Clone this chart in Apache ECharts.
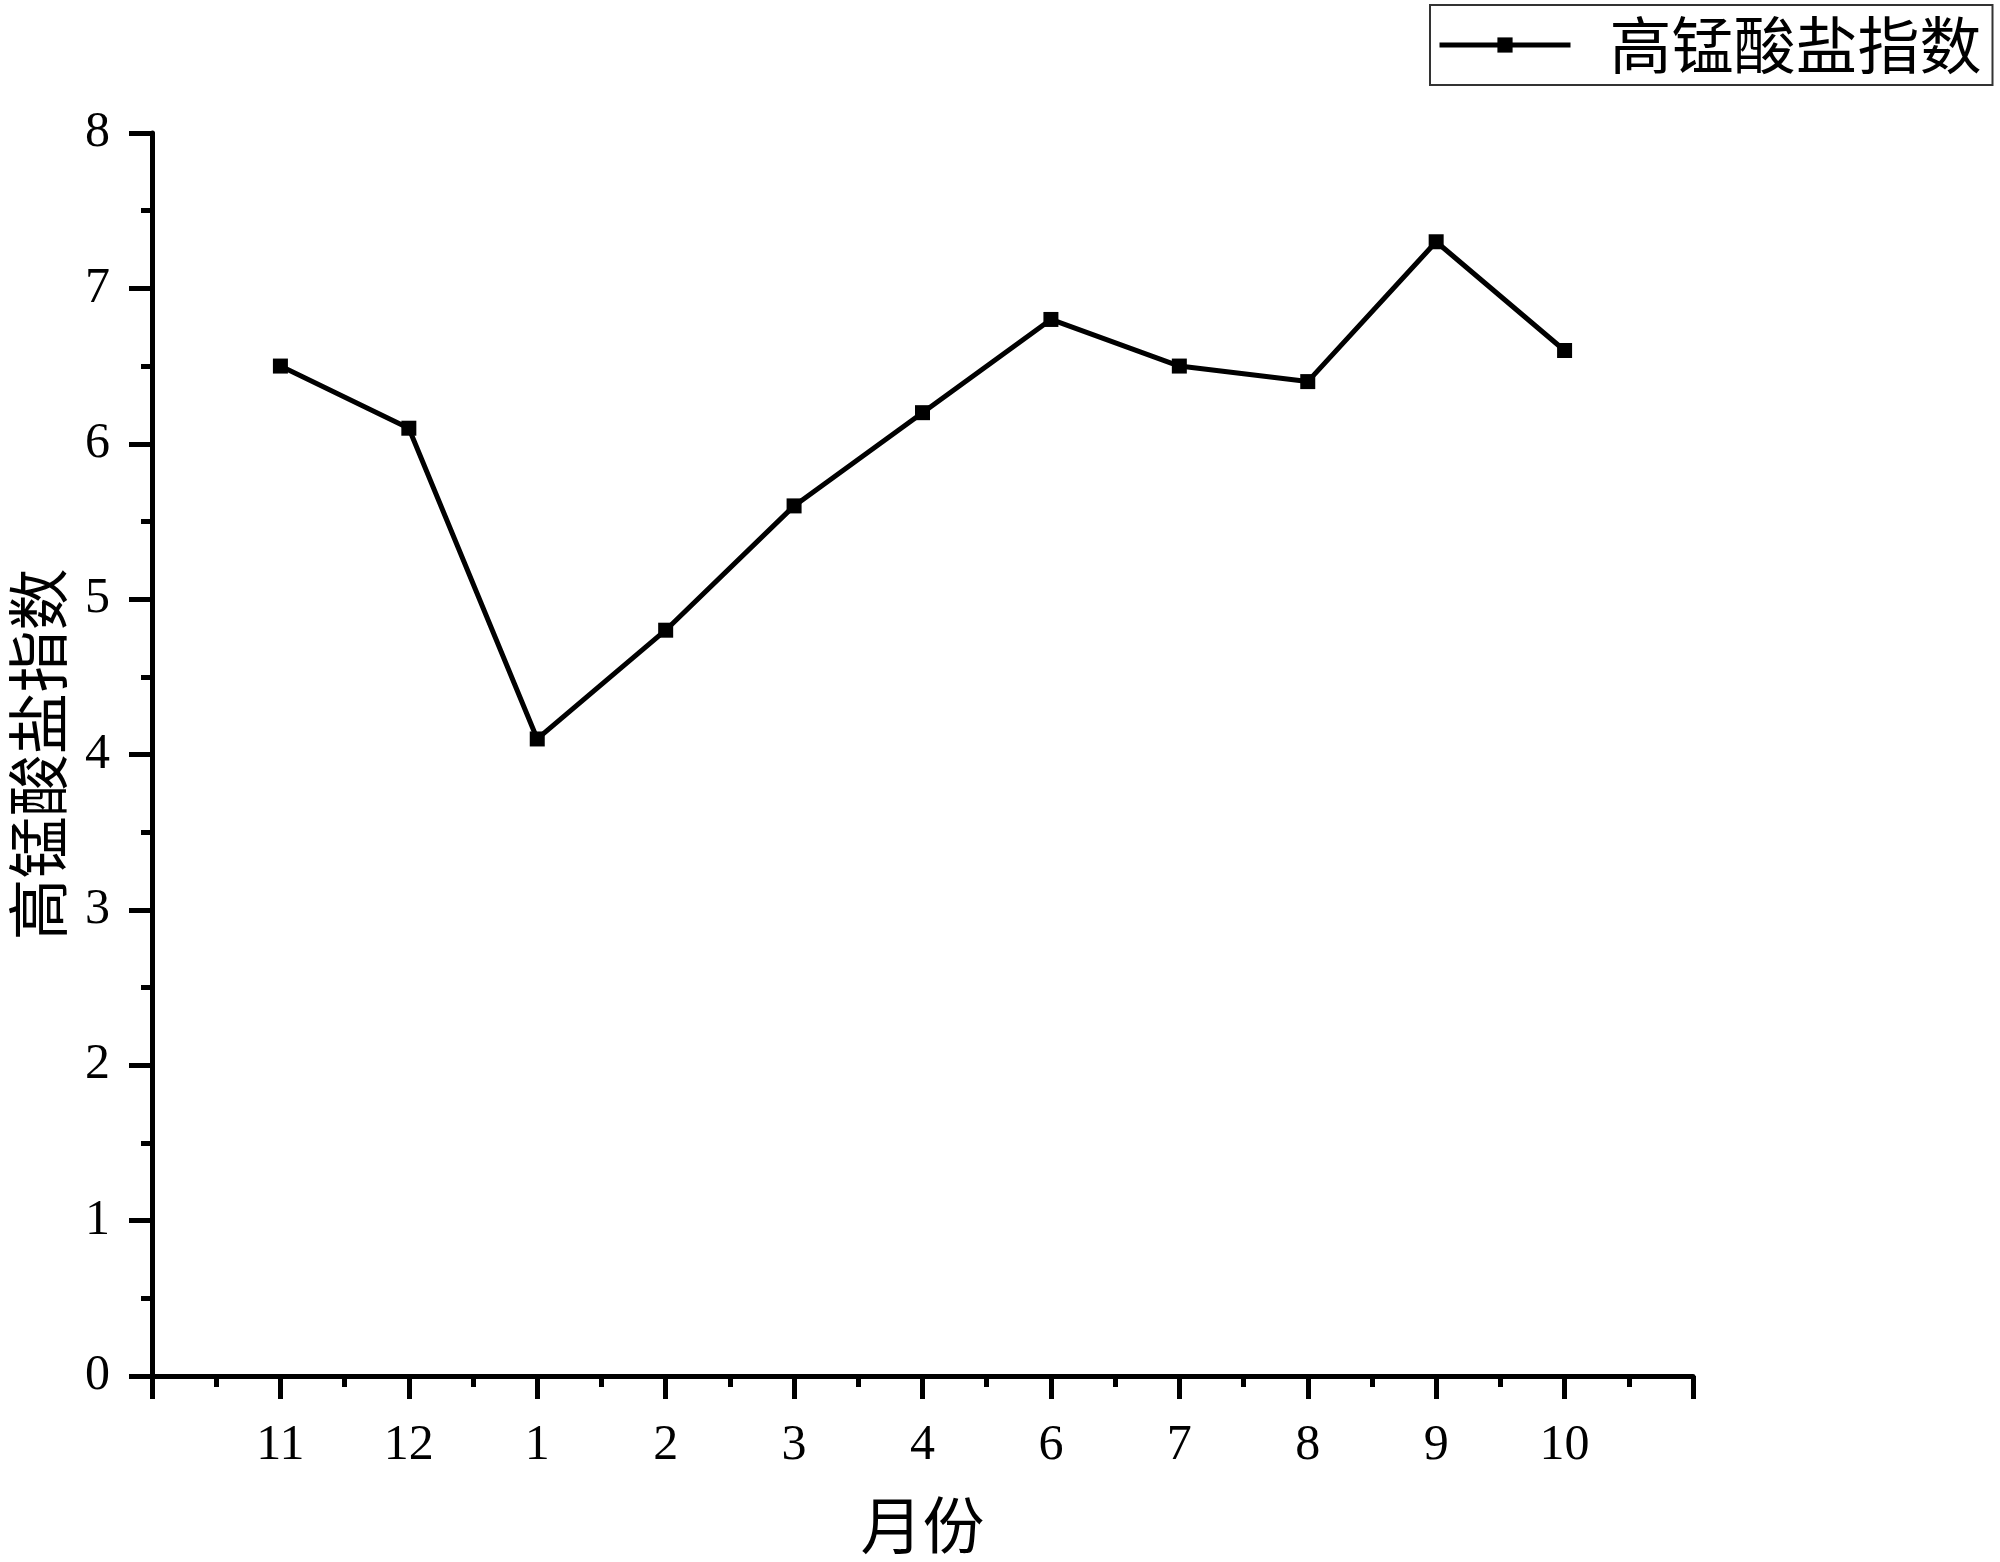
<!DOCTYPE html>
<html><head><meta charset="utf-8">
<script src="https://cdn.jsdelivr.net/npm/echarts@6/dist/echarts.min.js"></script>
<style>html,body{margin:0;padding:0;background:#fff}#c{width:2000px;height:1562px}</style>
</head><body><div id="c"></div>
<script>
const months = ['11','12','1','2','3','4','6','7','8','9','10'];
const values = [6.5, 6.1, 4.1, 4.8, 5.6, 6.2, 6.8, 6.5, 6.4, 7.3, 6.6];
const seriesName = '高锰酸盐指数';
const xName = '月份';
const yName = '高锰酸盐指数';

const chart = echarts.init(document.getElementById('c'));
const numFont = '"Liberation Serif", "DejaVu Serif", serif';
const cjkFont = '"Noto Sans CJK SC", sans-serif';
chart.setOption({
  backgroundColor: '#fff',
  animation: false,
  grid: {left: 152, top: 133, right: 307, bottom: 186, containLabel: false, outerBoundsMode: 'none'},
  legend: {
    left: 1430, top: 5,
    padding: [9, 11, 9, 7],
    borderColor: '#333', borderWidth: 2,
    itemWidth: 131, itemHeight: 19,
    lineStyle: {width: 5},
    textStyle: {fontFamily: cjkFont, fontSize: 62, color: '#000', padding: [0, 0, 0, 34]},
    data: [seriesName]
  },
  xAxis: {
    type: 'value', min: 0, max: months.length + 1, interval: 1,
    name: xName, nameLocation: 'middle', nameGap: 118,
    nameTextStyle: {fontFamily: cjkFont, fontSize: 62, color: '#000'},
    axisLine: {lineStyle: {color: '#000', width: 5}},
    axisTick: {inside: false, length: 23, lineStyle: {width: 5, color: '#000'}},
    minorTick: {show: true, splitNumber: 2, length: 11, lineStyle: {width: 5, color: '#000'}},
    splitLine: {show: false},
    axisLabel: {
      margin: 45, fontFamily: numFont, fontSize: 50, color: '#000',
      formatter: v => (v >= 1 && v <= months.length) ? months[v - 1] : ''
    }
  },
  yAxis: {
    type: 'value', min: 0, max: 8, interval: 1,
    name: yName, nameLocation: 'middle', nameGap: 83, nameRotate: 90,
    nameTextStyle: {fontFamily: cjkFont, fontSize: 62, color: '#000'},
    axisLine: {show: true, lineStyle: {color: '#000', width: 5}},
    axisTick: {show: true, inside: false, length: 23, lineStyle: {width: 5, color: '#000'}},
    minorTick: {show: true, splitNumber: 2, length: 11, lineStyle: {width: 5, color: '#000'}},
    splitLine: {show: false},
    axisLabel: {margin: 42, fontFamily: numFont, fontSize: 50, color: '#000'}
  },
  series: [{
    name: seriesName, type: 'line',
    data: values.map((v, i) => [i + 1, v]),
    symbol: 'rect', symbolSize: 15,
    lineStyle: {color: '#000', width: 5},
    itemStyle: {color: '#000'}
  }]
});
</script></body></html>
